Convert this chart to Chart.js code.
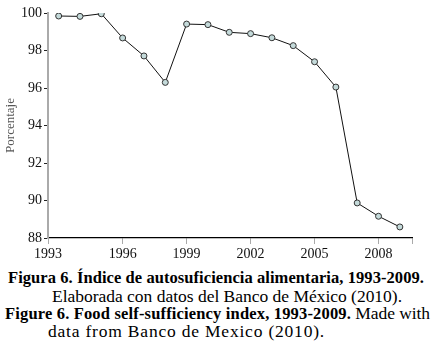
<!DOCTYPE html>
<html>
<head>
<meta charset="utf-8">
<script src="https://cdn.jsdelivr.net/npm/chart.js@4.4.0/dist/chart.umd.min.js"></script>
<style>
html,body{margin:0;padding:0;background:#fff;width:433px;height:360px;overflow:hidden;}
#wrap{position:absolute;left:0;top:0;width:433px;height:262px;}
.cap{position:absolute;font-family:"Liberation Serif","Times New Roman",serif;font-size:17.5px;color:#000;white-space:nowrap;line-height:18px;}
.cap b{font-weight:bold;font-size:16.5px;}
</style>
</head>
<body>
<div id="wrap"><canvas id="c" width="433" height="262"></canvas></div>
<div class="cap" style="left:8px;top:268px;"><b class="fit" data-w="416">Figura 6. Índice de autosuficiencia alimentaria, 1993-2009.</b></div>
<div class="cap" style="left:52px;top:287px;"><span class="fit" data-w="350">Elaborada con datos del Banco de México (2010).</span></div>
<div class="cap" style="left:5px;top:304px;"><b class="fit" data-w="346">Figure 6. Food self-sufficiency index, 1993-2009.</b><span class="fit" data-w="79"> Made with</span></div>
<div class="cap" style="left:48px;top:322px;"><span class="fit" data-w="277">data from Banco de Mexico (2010).</span></div>
<script>
const years = [1993,1994,1995,1996,1997,1998,1999,2000,2001,2002,2003,2004,2005,2006,2007,2008,2009];
const values = [99.84,99.82,99.96,98.67,97.71,96.30,99.41,99.38,98.97,98.90,98.68,98.26,97.40,96.05,89.87,89.16,88.59];
const xTickYears = [1996,1999,2002,2005,2008];
const yTicks = [88,90,92,94,96,98,100];
const yTitle = 'Porcentaje';
const X_MIN = 1992.5, X_MAX = 2009.57;

// fit caption pieces to their widths in the reference
document.querySelectorAll('.fit').forEach(el => {
  const target = +el.dataset.w;
  const w = el.getBoundingClientRect().width;
  const n = el.textContent.length;
  if (n > 0) el.style.letterSpacing = ((target - w) / n) + 'px';
});

const serif = '"Liberation Serif", "Times New Roman", serif';
new Chart(document.getElementById('c'), {
  type: 'line',
  data: {
    datasets: [{
      data: years.map((y,i)=>({x:y,y:values[i]})),
      borderColor: '#111',
      borderWidth: 1,
      pointRadius: 3,
      pointBackgroundColor: '#c4dada',
      pointBorderColor: '#333',
      pointBorderWidth: 1,
      tension: 0,
      fill: false
    }]
  },
  options: {
    responsive: false,
    animation: false,
    devicePixelRatio: 1,
    layout: {padding: {top: 13, right: 21, left: 0, bottom: 0}},
    plugins: {legend: {display: false}, tooltip: {enabled: false}},
    scales: {
      x: {
        type: 'linear',
        min: X_MIN, max: X_MAX,
        afterBuildTicks: (s) => { s.ticks = [X_MIN, ...xTickYears, X_MAX].map(v=>({value:v})); },
        afterFit: (s) => { s.height = 24; },
        grid: {drawOnChartArea: false, tickLength: 6, tickColor: '#aaa', lineWidth: 1},
        border: {color: '#000', width: 1.3},
        ticks: {
          maxRotation: 0, autoSkip: false, padding: 2,
          color: '#111',
          font: {family: serif, size: 14},
          callback: (v) => v === X_MIN ? '1993' : (xTickYears.includes(v) ? String(v) : '')
        }
      },
      y: {
        min: 88, max: 100,
        afterBuildTicks: (s) => { s.ticks = yTicks.map(v=>({value:v})); },
        afterFit: (s) => { s.width = 48; },
        grid: {drawOnChartArea: false, tickLength: 4, tickColor: '#222', lineWidth: 1},
        border: {color: '#aaa', width: 2},
        ticks: {color: '#111', padding: 2, font: {family: serif, size: 14}},
        title: {display: true, text: yTitle, color: '#555', font: {family: serif, size: 13}, padding: {top: 3, bottom: 2}}
      }
    }
  }
});
</script>
</body>
</html>
